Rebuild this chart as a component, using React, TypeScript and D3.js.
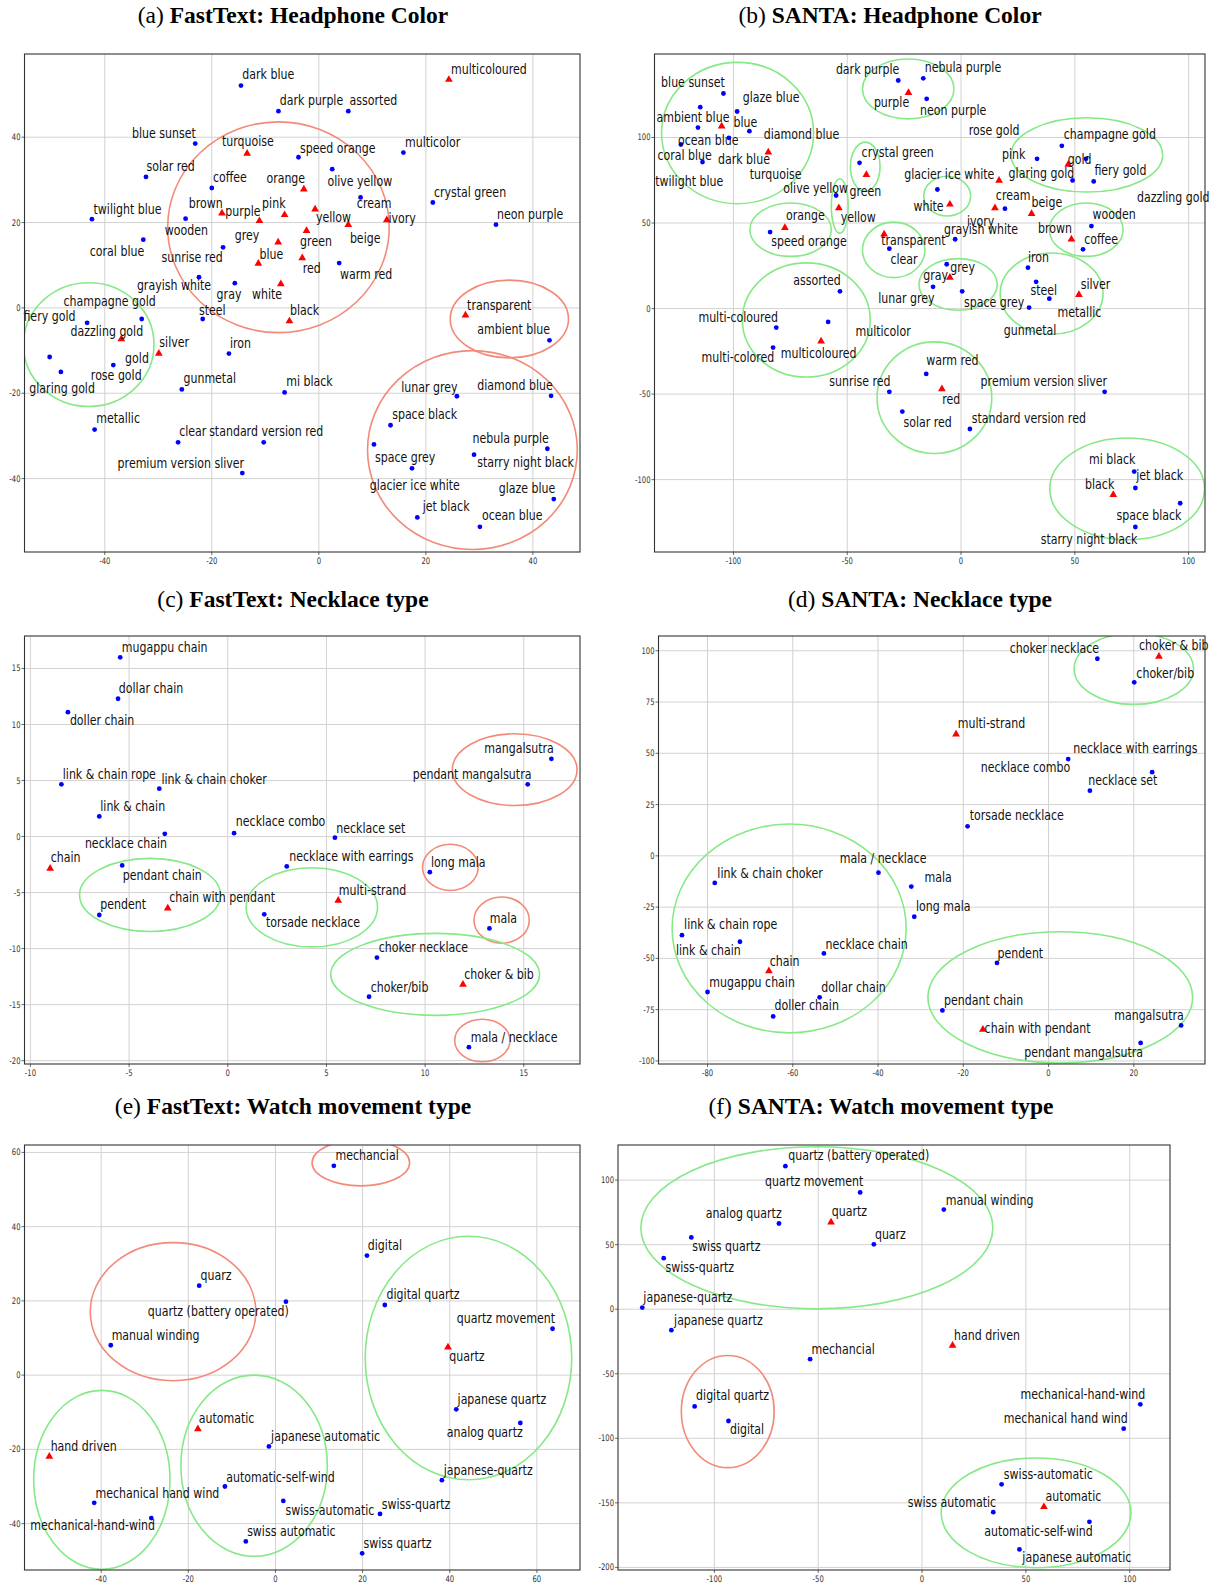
import React from "react";
import * as d3 from "d3";

type P = [string, number, number, number, number, number]; // name, x, y, isQuery, labelX, labelY
type E = [number, number, number, number, string]; // cx, cy, rx, ry, kind

const aPoints: P[] = [
  ["dark blue", -14.55, 52.1, 0, -14.3, 53.7],
  ["dark purple", -7.55, 46.1, 0, -7.3, 47.5],
  ["assorted", 5.5, 46.1, 0, 5.75, 47.5],
  ["multicoloured", 24.3, 53.5, 1, 24.7, 54.9],
  ["blue sunset", -23.1, 38.5, 0, -34.9, 39.9],
  ["turquoise", -13.4, 36.2, 1, -18.1, 37.9],
  ["speed orange", -3.8, 35.3, 0, -3.5, 36.4],
  ["multicolor", 15.8, 36.4, 0, 16.1, 37.7],
  ["solar red", -32.3, 30.7, 0, -32.2, 32.1],
  ["coffee", -20.0, 28.1, 0, -19.8, 29.4],
  ["orange", -2.8, 27.8, 1, -9.8, 29.2],
  ["olive yellow", 2.5, 32.5, 0, 1.6, 28.6],
  ["cream", 7.8, 25.9, 0, 7.1, 23.3],
  ["crystal green", 21.3, 24.7, 0, 21.5, 26.1],
  ["neon purple", 33.1, 19.5, 0, 33.3, 20.9],
  ["twilight blue", -42.4, 20.8, 0, -42.1, 22.1],
  ["wooden", -24.9, 20.9, 0, -28.8, 17.1],
  ["brown", -18.1, 22.2, 1, -24.3, 23.4],
  ["purple", -11.1, 20.4, 1, -17.5, 21.6],
  ["pink", -6.4, 21.8, 1, -10.6, 23.3],
  ["yellow", -0.7, 23.1, 1, -0.55, 20.2],
  ["ivory", 12.7, 20.6, 1, 13.0, 19.8],
  ["beige", 5.5, 19.5, 1, 5.8, 15.2],
  ["green", -2.3, 18.1, 1, -3.5, 14.4],
  ["grey", -7.6, 15.4, 1, -15.7, 16.0],
  ["coral blue", -32.8, 16.0, 0, -42.8, 12.2],
  ["sunrise red", -17.9, 14.2, 0, -29.4, 10.7],
  ["blue", -11.3, 10.4, 1, -11.1, 11.4],
  ["red", -3.1, 11.7, 1, -3.0, 8.2],
  ["warm red", 3.8, 10.5, 0, 3.95, 6.8],
  ["grayish white", -22.4, 7.2, 0, -34.0, 4.1],
  ["gray", -15.7, 5.8, 0, -19.1, 2.2],
  ["white", -7.1, 5.6, 1, -12.5, 2.0],
  ["champagne gold", -33.1, -2.6, 0, -47.7, 0.5],
  ["fiery gold", -43.3, -3.5, 0, -55.2, -3.1],
  ["dazzling gold", -50.3, -11.5, 0, -46.4, -6.7],
  ["gold", -36.9, -7.3, 1, -36.2, -12.9],
  ["rose gold", -38.4, -13.4, 0, -42.6, -16.8],
  ["glaring gold", -48.2, -15.0, 0, -54.1, -20.0],
  ["silver", -29.9, -10.7, 1, -29.8, -9.2],
  ["steel", -21.7, -2.6, 0, -22.4, -1.6],
  ["black", -5.5, -3.1, 1, -5.4, -1.6],
  ["iron", -16.8, -10.7, 0, -16.6, -9.4],
  ["gunmetal", -25.6, -19.1, 0, -25.3, -17.6],
  ["mi black", -6.4, -19.8, 0, -6.1, -18.4],
  ["metallic", -41.9, -28.5, 0, -41.6, -27.0],
  ["clear", -26.3, -31.5, 0, -26.1, -30.1],
  ["standard version red", -10.3, -31.5, 0, -20.5, -30.1],
  ["premium version sliver", -14.3, -38.7, 0, -37.6, -37.6],
  ["transparent", 27.4, -1.7, 1, 27.7, -0.4],
  ["ambient blue", 43.1, -7.6, 0, 29.6, -6.1],
  ["lunar grey", 25.8, -20.7, 0, 15.4, -19.6],
  ["diamond blue", 43.4, -20.6, 0, 29.6, -19.2],
  ["space black", 13.4, -27.5, 0, 13.7, -26.1],
  ["space grey", 10.3, -32.0, 0, 10.5, -36.2],
  ["nebula purple", 42.7, -33.0, 0, 28.7, -31.7],
  ["starry night black", 29.0, -34.4, 0, 29.6, -37.2],
  ["glacier ice white", 17.4, -37.6, 0, 9.5, -42.6],
  ["glaze blue", 43.9, -44.8, 0, 33.6, -43.3],
  ["jet black", 18.4, -49.1, 0, 19.4, -47.6],
  ["ocean blue", 30.1, -51.3, 0, 30.5, -49.7],
];
const aEllipses: E[] = [
  [-7.55, 18.9, 20.7, 24.7, "r"],
  [35.6, -2.6, 11.05, 9.1, "r"],
  [28.7, -33.3, 19.6, 23.3, "r"],
  [-43, -8.6, 12.2, 14.5, "g"],
];

const bPoints: P[] = [
  ["blue sunset", -104.4, 125.7, 0, -131.8, 129.4],
  ["glaze blue", -98.4, 115.2, 0, -95.9, 120.6],
  ["ambient blue", -114.6, 117.7, 0, -133.8, 109.3],
  ["blue", -105.2, 106.6, 1, -100.0, 106.4],
  ["ocean blue", -115.6, 105.8, 0, -124.4, 95.7],
  ["dark blue", -102.0, 99.8, 0, -106.8, 84.6],
  ["diamond blue", -93.0, 103.7, 0, -86.7, 99.2],
  ["coral blue", -123.1, 95.9, 0, -133.4, 87.0],
  ["twilight blue", -113.6, 85.6, 0, -134.4, 71.6],
  ["turquoise", -84.7, 91.4, 1, -92.9, 75.9],
  ["dark purple", -27.6, 133.3, 0, -55.0, 137.2],
  ["nebula purple", -16.6, 134.6, 0, -15.9, 138.5],
  ["purple", -23.1, 126.1, 1, -38.3, 117.7],
  ["neon purple", -15.1, 122.6, 0, -18.0, 113.4],
  ["rose gold", 33.4, 87.5, 0, 3.4, 101.2],
  ["pink", 16.7, 74.9, 1, 18.0, 87.5],
  ["glacier ice white", -10.4, 69.6, 0, -25.0, 75.9],
  ["white", -4.9, 60.9, 1, -20.9, 56.8],
  ["cream", 19.3, 58.4, 0, 15.3, 63.2],
  ["ivory", 14.9, 58.8, 1, 2.6, 48.1],
  ["beige", 31.0, 55.4, 1, 31.0, 59.3],
  ["grayish white", -2.6, 40.5, 0, -7.5, 43.8],
  ["champagne gold", 44.3, 95.1, 0, 45.1, 99.2],
  ["gold", 47.1, 84.2, 1, 46.9, 84.6],
  ["dazzling gold", 54.9, 87.5, 0, 77.3, 62.3],
  ["glaring gold", 49.0, 74.9, 0, 20.9, 76.3],
  ["fiery gold", 58.3, 74.3, 0, 58.6, 77.8],
  ["crystal green", -44.6, 85.2, 0, -43.7, 88.5],
  ["green", -41.6, 78.2, 1, -49.0, 65.6],
  ["olive yellow", -54.9, 66.1, 0, -78.1, 67.5],
  ["yellow", -53.7, 58.8, 1, -52.9, 50.6],
  ["orange", -77.4, 47.3, 1, -76.9, 51.6],
  ["speed orange", -83.9, 44.7, 0, -83.4, 36.4],
  ["transparent", -33.8, 43.4, 1, -35.1, 37.0],
  ["clear", -31.5, 35.0, 0, -31.0, 26.3],
  ["wooden", 57.3, 48.2, 0, 57.8, 52.1],
  ["brown", 48.5, 40.5, 1, 33.8, 44.2],
  ["coffee", 53.6, 34.6, 0, 54.1, 37.9],
  ["iron", 29.4, 23.9, 0, 29.4, 27.2],
  ["grey", -6.3, 25.9, 0, -4.7, 21.4],
  ["gray", -4.9, 18.1, 1, -16.6, 16.5],
  ["lunar grey", -12.3, 12.7, 0, -36.4, 3.3],
  ["assorted", -53.2, 10.1, 0, -73.7, 13.6],
  ["space grey", 0.5, 10.1, 0, 1.3, 1.0],
  ["silver", 51.8, 8.1, 1, 52.6, 11.7],
  ["steel", 33.0, 15.6, 0, 30.5, 7.8],
  ["metallic", 38.8, 5.8, 0, 42.4, -4.9],
  ["gunmetal", 29.9, 0.6, 0, 18.8, -15.6],
  ["multi-coloured", -81.2, -11.1, 0, -115.4, -7.8],
  ["multicolor", -58.4, -7.8, 0, -46.4, -16.2],
  ["multi-colored", -82.6, -22.8, 0, -114.0, -31.2],
  ["multicoloured", -61.5, -19.1, 1, -79.2, -28.8],
  ["warm red", -15.3, -38.2, 0, -15.3, -33.1],
  ["sunrise red", -31.5, -48.7, 0, -57.9, -45.4],
  ["red", -8.4, -47.0, 1, -8.3, -55.9],
  ["solar red", -25.8, -60.2, 0, -25.3, -69.2],
  ["standard version red", 3.9, -70.4, 0, 4.7, -66.9],
  ["premium version sliver", 63.1, -48.7, 0, 8.6, -45.4],
  ["mi black", 76.1, -95.3, 0, 56.2, -90.6],
  ["jet black", 76.6, -104.9, 0, 77.0, -100.4],
  ["black", 66.9, -108.8, 1, 54.5, -105.3],
  ["space black", 96.3, -113.8, 0, 68.3, -123.4],
  ["starry night black", 76.6, -127.7, 0, 35.0, -137.4],
];
const bEllipses: E[] = [
  [-98.2, 102.6, 33.4, 41.3, "g"],
  [-23.2, 128.4, 20.1, 17.5, "g"],
  [-42.1, 82.9, 6.5, 14.4, "g"],
  [-53.3, 60.0, 3.7, 15.9, "g"],
  [-6.1, 65.7, 10.3, 11.6, "g"],
  [55.3, 89.8, 33.3, 21.7, "g"],
  [-74.9, 46.1, 17.9, 15.6, "g"],
  [-29.6, 34.3, 13.7, 16.2, "g"],
  [55.0, 46.1, 16.2, 15.6, "g"],
  [-1.3, 14.1, 17.2, 15.1, "g"],
  [39.8, 8.75, 22.6, 23.75, "g"],
  [-68.0, -6.65, 28.1, 33.35, "g"],
  [-11.7, -52.1, 25.2, 32.65, "g"],
  [73, -105.4, 34, 29.7, "g"],
];

const cPoints: P[] = [
  ["mugappu chain", -5.45, 16.0, 0, -5.37, 16.5],
  ["dollar chain", -5.56, 12.3, 0, -5.52, 12.8],
  ["doller chain", -8.1, 11.1, 0, -8.0, 10.0],
  ["link & chain rope", -8.43, 4.66, 0, -8.36, 5.1],
  ["link & chain choker", -3.47, 4.27, 0, -3.36, 4.72],
  ["link & chain", -6.51, 1.8, 0, -6.46, 2.31],
  ["necklace combo", 0.32, 0.3, 0, 0.41, 0.9],
  ["necklace set", 5.43, -0.1, 0, 5.5, 0.36],
  ["mangalsutra", 16.4, 6.94, 0, 13.0, 7.45],
  ["pendant mangalsutra", 15.2, 4.66, 0, 9.37, 5.1],
  ["necklace chain", -3.19, 0.24, 0, -7.24, -1.0],
  ["chain", -9.0, -2.85, 1, -8.97, -2.3],
  ["pendant chain", -5.35, -2.58, 0, -5.32, -3.9],
  ["pendent", -6.51, -7.0, 0, -6.46, -6.5],
  ["chain with pendant", -3.04, -6.4, 1, -2.97, -5.86],
  ["necklace with earrings", 2.99, -2.67, 0, 3.12, -2.2],
  ["multi-strand", 5.6, -5.7, 1, 5.63, -5.2],
  ["torsade necklace", 1.85, -6.94, 0, 1.94, -8.1],
  ["long mala", 10.24, -3.18, 0, 10.3, -2.7],
  ["mala", 13.26, -8.2, 0, 13.28, -7.7],
  ["choker necklace", 7.56, -10.8, 0, 7.65, -10.3],
  ["choker/bib", 7.16, -14.3, 0, 7.24, -13.9],
  ["choker & bib", 11.92, -13.2, 1, 11.98, -12.7],
  ["mala / necklace", 12.22, -18.8, 0, 12.31, -18.3],
];
const cEllipses: E[] = [
  [14.54, 5.97, 3.16, 3.2, "r"],
  [-3.94, -5.21, 3.57, 3.26, "g"],
  [4.26, -6.32, 3.33, 3.53, "g"],
  [11.28, -2.75, 1.41, 2.06, "r"],
  [13.88, -7.46, 1.4, 2.06, "r"],
  [10.51, -12.3, 5.29, 3.66, "g"],
  [12.9, -18.2, 1.4, 1.9, "r"],
];

const dPoints: P[] = [
  ["choker necklace", 11.45, 96.1, 0, -9.1, 98.9],
  ["choker & bib", 25.9, 97.2, 1, 21.2, 100.2],
  ["choker/bib", 20.1, 84.6, 0, 20.6, 86.9],
  ["multi-strand", -21.7, 59.3, 1, -21.3, 62.1],
  ["necklace combo", 4.6, 47.2, 0, -15.9, 41.0],
  ["necklace with earrings", 24.3, 40.8, 0, 5.8, 50.2],
  ["necklace set", 9.7, 31.8, 0, 9.3, 34.5],
  ["torsade necklace", -19.0, 14.4, 0, -18.5, 17.5],
  ["mala / necklace", -39.9, -8.2, 0, -49.0, -3.6],
  ["mala", -32.2, -15.0, 0, -29.1, -12.6],
  ["long mala", -31.5, -29.7, 0, -31.1, -26.9],
  ["link & chain choker", -78.3, -13.2, 0, -77.7, -10.6],
  ["link & chain rope", -86.0, -38.7, 0, -85.5, -35.9],
  ["link & chain", -72.4, -41.9, 0, -87.4, -48.4],
  ["necklace chain", -52.7, -47.6, 0, -52.3, -45.2],
  ["chain", -65.6, -56.1, 1, -65.4, -53.7],
  ["mugappu chain", -80.0, -66.4, 0, -79.6, -63.9],
  ["dollar chain", -53.7, -69.0, 0, -53.3, -66.4],
  ["doller chain", -64.6, -78.3, 0, -64.3, -75.4],
  ["pendent", -12.1, -52.2, 0, -12.0, -49.6],
  ["pendant chain", -24.9, -75.4, 0, -24.5, -72.9],
  ["chain with pendant", -15.4, -84.7, 1, -15.0, -86.3],
  ["mangalsutra", 31.1, -82.7, 0, 15.4, -79.9],
  ["pendant mangalsutra", 21.6, -91.2, 0, -5.7, -98.2],
];
const dEllipses: E[] = [
  [20, 91.2, 14, 17.35, "g"],
  [-60.85, -35.4, 27.45, 50.9, "g"],
  [2.75, -69, 31.05, 32, "g"],
];

const ePoints: P[] = [
  ["mechancial", 13.4, 56.4, 0, 13.8, 57.9],
  ["digital", 21.0, 32.2, 0, 21.2, 33.6],
  ["quarz", -17.5, 24.1, 0, -17.2, 25.7],
  ["quartz (battery operated)", 2.4, 19.8, 0, -29.3, 16.0],
  ["digital quartz", 25.1, 18.9, 0, 25.5, 20.5],
  ["quartz movement", 63.6, 12.5, 0, 41.6, 14.0],
  ["manual winding", -37.8, 8.05, 0, -37.6, 9.5],
  ["quartz", 39.6, 7.5, 1, 39.9, 3.8],
  ["japanese quartz", 41.5, -9.2, 0, 41.8, -7.7],
  ["analog quartz", 56.2, -12.9, 0, 39.3, -16.7],
  ["automatic", -17.8, -14.5, 1, -17.6, -12.9],
  ["japanese automatic", -1.5, -19.2, 0, -1.0, -17.8],
  ["hand driven", -51.9, -21.9, 1, -51.6, -20.4],
  ["japanese-quartz", 38.2, -28.3, 0, 38.6, -27.0],
  ["automatic-self-wind", -11.6, -30.0, 0, -11.3, -28.7],
  ["mechanical hand wind", -41.6, -34.4, 0, -41.3, -33.0],
  ["swiss-automatic", 1.8, -33.9, 0, 2.3, -37.6],
  ["swiss-quartz", 24.0, -37.4, 0, 24.4, -36.0],
  ["mechanical-hand-wind", -28.5, -38.5, 0, -56.3, -41.6],
  ["swiss automatic", -6.8, -44.8, 0, -6.5, -43.3],
  ["swiss quartz", 19.9, -48.0, 0, 20.2, -46.6],
];
const eEllipses: E[] = [
  [19.6, 57.2, 11.2, 6.2, "r"],
  [-23.5, 17.1, 19.0, 18.6, "r"],
  [44.3, 4.6, 23.7, 32.8, "g"],
  [-39.85, -28.2, 15.65, 24.1, "g"],
  [-4.9, -24.4, 16.8, 24.4, "g"],
];

const fPoints: P[] = [
  ["quartz (battery operated)", -65.8, 110.8, 0, -64.4, 115.6],
  ["quartz movement", -29.8, 90.5, 0, -75.6, 95.1],
  ["manual winding", 10.5, 77.2, 0, 11.4, 81.0],
  ["analog quartz", -68.9, 66.4, 0, -104.2, 70.8],
  ["quartz", -43.8, 67.4, 1, -43.5, 72.1],
  ["quarz", -23.2, 50.3, 0, -22.7, 54.1],
  ["swiss quartz", -111.1, 55.6, 0, -110.6, 45.1],
  ["swiss-quartz", -124.4, 39.5, 0, -123.5, 29.0],
  ["japanese-quartz", -134.7, 1.3, 0, -134.2, 5.4],
  ["japanese quartz", -120.7, -16.2, 0, -119.4, -12.1],
  ["hand driven", 14.7, -28.1, 1, 15.4, -23.5],
  ["mechancial", -53.9, -38.7, 0, -53.2, -34.5],
  ["digital quartz", -109.5, -75.3, 0, -108.8, -70.6],
  ["digital", -93.2, -86.6, 0, -92.5, -96.4],
  ["mechanical-hand-wind", 105.1, -73.7, 0, 47.4, -69.3],
  ["mechanical hand wind", 97.1, -92.5, 0, 39.4, -88.1],
  ["swiss-automatic", 38.3, -135.6, 0, 39.4, -131.2],
  ["automatic", 58.7, -153.1, 1, 59.5, -148.7],
  ["swiss automatic", 34.3, -157.2, 0, -6.9, -153.1],
  ["automatic-self-wind", 80.6, -164.7, 0, 30.0, -175.5],
  ["japanese automatic", 46.9, -186.1, 0, 48.3, -196.0],
];
const fEllipses: E[] = [
  [-50.65, 63.1, 84.75, 62.8, "g"],
  [-93.55, -79.25, 22.35, 43.45, "r"],
  [54.9, -157.7, 45.7, 42.5, "g"],
];

const aXTicks = [-40, -20, 0, 20, 40];
const aYTicks = [-40, -20, 0, 20, 40];
const bXTicks = [-100, -50, 0, 50, 100];
const bYTicks = [-100, -50, 0, 50, 100];
const cXTicks = [-10, -5, 0, 5, 10, 15];
const cYTicks = [-20, -15, -10, -5, 0, 5, 10, 15];
const dXTicks = [-80, -60, -40, -20, 0, 20];
const dYTicks = [-100, -75, -50, -25, 0, 25, 50, 75, 100];
const eXTicks = [-40, -20, 0, 20, 40, 60];
const eYTicks = [-40, -20, 0, 20, 40, 60];
const fXTicks = [-100, -50, 0, 50, 100];
const fYTicks = [-200, -150, -100, -50, 0, 50, 100];

const panels = [
  { id: "a", tag: "(a) ", title: "FastText: Headphone Color", tx: 293, ty: 23, l: 24.5, r: 580, t: 54, b: 552, xd: [-55, 48.8], yd: [-57.2, 59.5], xt: aXTicks, yt: aYTicks, pts: aPoints, ell: aEllipses },
  { id: "b", tag: "(b) ", title: "SANTA: Headphone Color", tx: 890, ty: 23, l: 654.5, r: 1205, t: 54, b: 552, xd: [-134.7, 107.2], yd: [-142.3, 148.8], xt: bXTicks, yt: bYTicks, pts: bPoints, ell: bEllipses },
  { id: "c", tag: "(c) ", title: "FastText: Necklace type", tx: 293, ty: 607, l: 24.5, r: 580, t: 636, b: 1064, xd: [-10.3, 17.85], yd: [-20.3, 17.9], xt: cXTicks, yt: cYTicks, pts: cPoints, ell: cEllipses },
  { id: "d", tag: "(d) ", title: "SANTA: Necklace type", tx: 920, ty: 607, l: 658.5, r: 1205, t: 636, b: 1064, xd: [-91.5, 36.7], yd: [-101.5, 107.2], xt: dXTicks, yt: dYTicks, pts: dPoints, ell: dEllipses },
  { id: "e", tag: "(e) ", title: "FastText: Watch movement type", tx: 293, ty: 1114, l: 24.5, r: 580, t: 1145, b: 1570, xd: [-57.6, 69.9], yd: [-52.5, 62], xt: eXTicks, yt: eYTicks, pts: ePoints, ell: eEllipses },
  { id: "f", tag: "(f) ", title: "SANTA: Watch movement type", tx: 881, ty: 1114, l: 618, r: 1170, t: 1145, b: 1570, xd: [-146.4, 119.4], yd: [-202, 127.2], xt: fXTicks, yt: fYTicks, pts: fPoints, ell: fEllipses },
];

const SX = 0.76;
const LABEL_FONT = "DejaVu Sans";
const triPath = d3.symbol().type(d3.symbolTriangle).size(26)() as string;

function Panel({ p }: { p: any }) {
  const x = d3.scaleLinear().domain(p.xd).range([p.l, p.r]);
  const y = d3.scaleLinear().domain(p.yd).range([p.b, p.t]);
  const clipId = `clip-${p.id}`;
  return (
    <g>
      <defs>
        <clipPath id={clipId}>
          <rect x={p.l} y={p.t} width={p.r - p.l} height={p.b - p.t} />
        </clipPath>
      </defs>
      <text x={p.tx} y={p.ty} textAnchor="middle" fontFamily="Liberation Serif" fontSize={23.5} fill="#000">
        <tspan>{p.tag}</tspan>
        <tspan fontWeight="bold">{p.title}</tspan>
      </text>
      <rect x={p.l} y={p.t} width={p.r - p.l} height={p.b - p.t} fill="#fff" />
      {p.xt.map((v: number) => (
        <line key={"gx" + v} x1={x(v)} x2={x(v)} y1={p.t} y2={p.b} stroke="#d2d2d2" strokeWidth={1} />
      ))}
      {p.yt.map((v: number) => (
        <line key={"gy" + v} x1={p.l} x2={p.r} y1={y(v)} y2={y(v)} stroke="#d2d2d2" strokeWidth={1} />
      ))}
      {p.xt.map((v: number) => (
        <g key={"tx" + v}>
          <line x1={x(v)} x2={x(v)} y1={p.b} y2={p.b + 3} stroke="#444" strokeWidth={0.8} />
          <text transform={`translate(${x(v)},${p.b + 12}) scale(${SX},1)`} textAnchor="middle" fontFamily={LABEL_FONT} fontSize={9} fill="#333">
            {v}
          </text>
        </g>
      ))}
      {p.yt.map((v: number) => (
        <g key={"ty" + v}>
          <line x1={p.l - 3} x2={p.l} y1={y(v)} y2={y(v)} stroke="#444" strokeWidth={0.8} />
          <text transform={`translate(${p.l - 4},${y(v) + 3}) scale(${SX},1)`} textAnchor="end" fontFamily={LABEL_FONT} fontSize={9} fill="#333">
            {v}
          </text>
        </g>
      ))}
      <g clipPath={`url(#${clipId})`}>
        {p.ell.map((e: E, i: number) => (
          <ellipse
            key={"e" + i}
            cx={x(e[0])}
            cy={y(e[1])}
            rx={Math.abs(x(e[0] + e[2]) - x(e[0]))}
            ry={Math.abs(y(e[1] + e[3]) - y(e[1]))}
            fill="none"
            stroke={e[4] === "r" ? "#f38a78" : "#86e986"}
            strokeWidth={1.6}
          />
        ))}
      </g>
      {p.pts.map((d: P, i: number) =>
        d[3] ? (
          <path key={"m" + i} d={triPath} transform={`translate(${x(d[1])},${y(d[2])})`} fill="#ff0000" />
        ) : (
          <circle key={"m" + i} cx={x(d[1])} cy={y(d[2])} r={2.4} fill="#0000ff" />
        )
      )}
      {p.pts.map((d: P, i: number) => (
        <text
          key={"l" + i}
          transform={`translate(${x(d[4])},${y(d[5])}) scale(${SX},1)`}
          fontFamily={LABEL_FONT}
          fontSize={14.5}
          fill="#111"
        >
          {d[0]}
        </text>
      ))}
      <rect x={p.l} y={p.t} width={p.r - p.l} height={p.b - p.t} fill="none" stroke="#333" strokeWidth={1.1} />
    </g>
  );
}

export default function App() {
  return (
    <svg
      width={1215}
      height={1589}
      viewBox="0 0 1215 1589"
      style={{ position: "absolute", left: 0, top: 0, background: "#fff" }}
    >
      <rect width={1215} height={1589} fill="#fff" />
      {panels.map((p) => (
        <Panel key={p.id} p={p} />
      ))}
    </svg>
  );
}
